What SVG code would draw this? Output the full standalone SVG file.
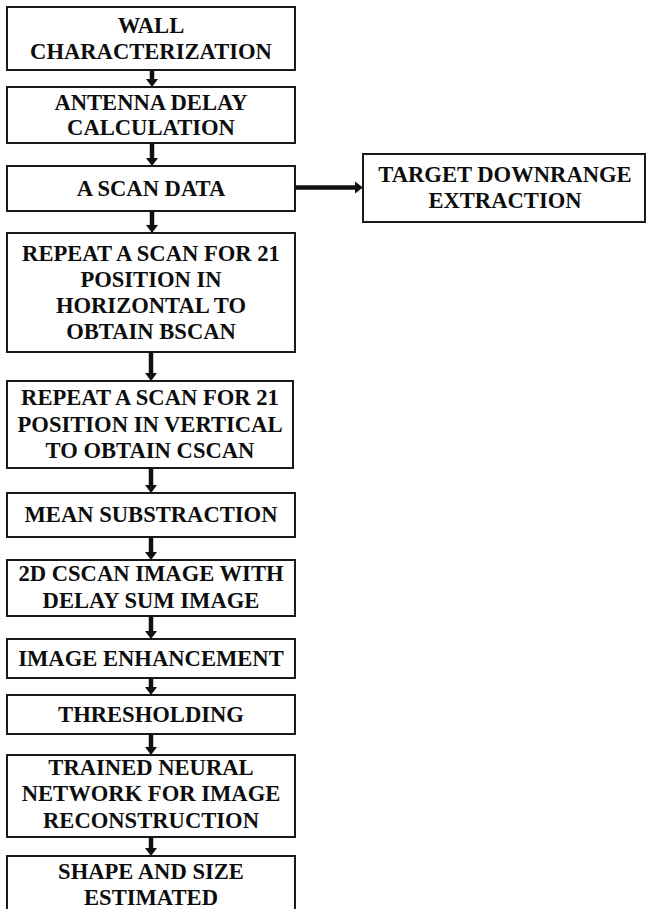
<svg xmlns="http://www.w3.org/2000/svg" width="646" height="909" viewBox="0 0 646 909">
<style>
.box{fill:#fff;stroke:#1a1a1a;stroke-width:2}
.t{font-family:"Liberation Serif","Times New Roman",serif;font-weight:bold;font-size:22.6px;fill:#0d0d0d;text-anchor:middle}
.sh{stroke:#111;stroke-width:4.5;fill:none}
.hd{fill:#111}
</style>
<rect width="646" height="909" fill="#fff"/>
<g id="n1"><rect class="box" x="7" y="7" width="288" height="63"/><text class="t" x="151" y="33">WALL</text><text class="t" x="151" y="59">CHARACTERIZATION</text></g>
<g id="n2"><rect class="box" x="7" y="87" width="288" height="56"/><text class="t" x="151" y="110">ANTENNA DELAY</text><text class="t" x="151" y="135">CALCULATION</text></g>
<g id="n3"><rect class="box" x="7" y="166" width="288" height="45"/><text class="t" x="151" y="195.5">A SCAN DATA</text></g>
<g id="n4"><rect class="box" x="363" y="154" width="282" height="68"/><text class="t" x="505" y="182">TARGET DOWNRANGE</text><text class="t" x="505" y="208">EXTRACTION</text></g>
<g id="n5"><rect class="box" x="7" y="233" width="288" height="119"/><text class="t" x="151" y="260.5">REPEAT A SCAN FOR 21</text><text class="t" x="151" y="286.5">POSITION IN</text><text class="t" x="151" y="312.5">HORIZONTAL TO</text><text class="t" x="151" y="338.5">OBTAIN BSCAN</text></g>
<g id="n6"><rect class="box" x="7" y="381" width="286" height="87"/><text class="t" x="150" y="405">REPEAT A SCAN FOR 21</text><text class="t" x="150" y="431.5">POSITION IN VERTICAL</text><text class="t" x="150" y="457.5">TO OBTAIN CSCAN</text></g>
<g id="n7"><rect class="box" x="7" y="493" width="288" height="44"/><text class="t" x="151" y="522">MEAN SUBSTRACTION</text></g>
<g id="n8"><rect class="box" x="7" y="560" width="288" height="56"/><text class="t" x="151" y="581">2D CSCAN IMAGE WITH</text><text class="t" x="151" y="607.5">DELAY SUM IMAGE</text></g>
<g id="n9"><rect class="box" x="7" y="639" width="288" height="39"/><text class="t" x="151" y="665.5">IMAGE ENHANCEMENT</text></g>
<g id="n10"><rect class="box" x="7" y="695" width="288" height="39"/><text class="t" x="151" y="721.5">THRESHOLDING</text></g>
<g id="n11"><rect class="box" x="7" y="755" width="288" height="82"/><text class="t" x="151" y="775">TRAINED NEURAL</text><text class="t" x="151" y="801">NETWORK FOR IMAGE</text><text class="t" x="151" y="827.5">RECONSTRUCTION</text></g>
<g id="n12"><rect class="box" x="7" y="856" width="288" height="60"/><text class="t" x="151" y="879">SHAPE AND SIZE</text><text class="t" x="151" y="905">ESTIMATED</text></g>
<g id="connectors">
<line class="sh" x1="152" y1="70" x2="152" y2="80"/><polygon class="hd" points="146,79 158,79 152,87"/>
<line class="sh" x1="152" y1="143" x2="152" y2="159"/><polygon class="hd" points="146,158 158,158 152,166"/>
<line class="sh" x1="152" y1="211" x2="152" y2="226"/><polygon class="hd" points="146,225 158,225 152,233"/>
<line class="sh" x1="151" y1="352" x2="151" y2="374"/><polygon class="hd" points="145,373 157,373 151,381"/>
<line class="sh" x1="151" y1="468" x2="151" y2="486"/><polygon class="hd" points="145,485 157,485 151,493"/>
<line class="sh" x1="151" y1="537" x2="151" y2="553"/><polygon class="hd" points="145,552 157,552 151,560"/>
<line class="sh" x1="151" y1="616" x2="151" y2="632"/><polygon class="hd" points="145,631 157,631 151,639"/>
<line class="sh" x1="151" y1="678" x2="151" y2="688"/><polygon class="hd" points="145,687 157,687 151,695"/>
<line class="sh" x1="151" y1="734" x2="151" y2="748"/><polygon class="hd" points="145,747 157,747 151,755"/>
<line class="sh" x1="151" y1="837" x2="151" y2="849"/><polygon class="hd" points="145,848 157,848 151,856"/>
<line class="sh" x1="295" y1="187.5" x2="356" y2="187.5"/><polygon class="hd" points="355,181.5 355,193.5 363,187.5"/>
</g>
</svg>
